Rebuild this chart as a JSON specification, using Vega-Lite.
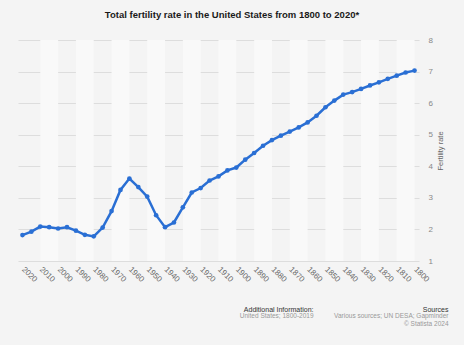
{
  "$schema": "https://vega.github.io/schema/vega-lite/v6.json",
  "width": 401,
  "height": 221,
  "autosize": {"type": "none"},
  "padding": {"left": 18, "top": 40, "right": 45, "bottom": 84},
  "background": "#f4f4f4",
  "config": {"view": {"stroke": null}, "font": "Liberation Sans"},
  "title": {
    "text": "Total fertility rate in the United States from 1800 to 2020*",
    "fontSize": 9.5,
    "fontWeight": "bold",
    "color": "#1a1a1a",
    "anchor": "middle",
    "dx": 13.5,
    "offset": 17
  },
  "datasets": {
    "bands": [
      {"start": 1800, "end": 1810}, {"start": 1820, "end": 1830}, {"start": 1840, "end": 1850},
      {"start": 1860, "end": 1870}, {"start": 1880, "end": 1890}, {"start": 1900, "end": 1910},
      {"start": 1920, "end": 1930}, {"start": 1940, "end": 1950}, {"start": 1960, "end": 1970},
      {"start": 1980, "end": 1990}, {"start": 2000, "end": 2010}
    ],
    "tfr": [
      {"year": 1800, "rate": 7.03}, {"year": 1805, "rate": 6.97}, {"year": 1810, "rate": 6.87},
      {"year": 1815, "rate": 6.77}, {"year": 1820, "rate": 6.66}, {"year": 1825, "rate": 6.56},
      {"year": 1830, "rate": 6.45}, {"year": 1835, "rate": 6.35}, {"year": 1840, "rate": 6.27},
      {"year": 1845, "rate": 6.08}, {"year": 1850, "rate": 5.87}, {"year": 1855, "rate": 5.6},
      {"year": 1860, "rate": 5.39}, {"year": 1865, "rate": 5.23}, {"year": 1870, "rate": 5.1},
      {"year": 1875, "rate": 4.97}, {"year": 1880, "rate": 4.83}, {"year": 1885, "rate": 4.65},
      {"year": 1890, "rate": 4.42}, {"year": 1895, "rate": 4.21}, {"year": 1900, "rate": 3.96},
      {"year": 1905, "rate": 3.87}, {"year": 1910, "rate": 3.68}, {"year": 1915, "rate": 3.55},
      {"year": 1920, "rate": 3.31}, {"year": 1925, "rate": 3.17}, {"year": 1930, "rate": 2.7},
      {"year": 1935, "rate": 2.22}, {"year": 1940, "rate": 2.07}, {"year": 1945, "rate": 2.45},
      {"year": 1950, "rate": 3.04}, {"year": 1955, "rate": 3.34}, {"year": 1960, "rate": 3.61},
      {"year": 1965, "rate": 3.25}, {"year": 1970, "rate": 2.58}, {"year": 1975, "rate": 2.06},
      {"year": 1980, "rate": 1.78}, {"year": 1985, "rate": 1.83}, {"year": 1990, "rate": 1.96},
      {"year": 1995, "rate": 2.07}, {"year": 2000, "rate": 2.03}, {"year": 2005, "rate": 2.07},
      {"year": 2010, "rate": 2.09}, {"year": 2015, "rate": 1.93}, {"year": 2020, "rate": 1.82}
    ]
  },
  "layer": [
    {
      "data": {"name": "bands"},
      "mark": {"type": "rect", "color": "#f9f9f9"},
      "encoding": {
        "x": {
          "field": "start",
          "type": "quantitative",
          "scale": {"domain": [1797.5, 2022.5], "reverse": true, "nice": false, "zero": false},
          "axis": {
            "title": null,
            "values": [1800, 1810, 1820, 1830, 1840, 1850, 1860, 1870, 1880, 1890, 1900, 1910, 1920, 1930, 1940, 1950, 1960, 1970, 1980, 1990, 2000, 2010, 2020],
            "format": "d",
            "labelAngle": 45,
            "labelAlign": "left",
            "labelBaseline": "middle",
            "labelPadding": 7,
            "labelFontSize": 8,
            "labelColor": "#666666",
            "labelOverlap": false,
            "ticks": false,
            "domain": false,
            "grid": false
          }
        },
        "x2": {"field": "end"}
      }
    },
    {
      "data": {"name": "tfr"},
      "mark": {"type": "line", "color": "#2a6fd4", "strokeWidth": 2.5, "point": {"filled": true, "size": 22, "color": "#2a6fd4"}},
      "encoding": {
        "x": {"field": "year", "type": "quantitative", "axis": null},
        "y": {
          "field": "rate",
          "type": "quantitative",
          "scale": {"domain": [1, 8], "nice": false, "zero": false},
          "axis": {
            "orient": "right",
            "title": "Fertility rate",
            "titleAngle": 270,
            "titleFontSize": 7.5,
            "titleFontWeight": "normal",
            "titleColor": "#666666",
            "titlePadding": 12,
            "values": [1, 2, 3, 4, 5, 6, 7, 8],
            "labelFontSize": 8,
            "labelColor": "#888888",
            "labelPadding": 9,
            "ticks": false,
            "domain": false,
            "grid": true,
            "gridColor": "#dddddd",
            "gridWidth": 1
          }
        }
      }
    },
    {
      "data": {"values": [{}]},
      "mark": {"type": "point", "opacity": 0},
      "encoding": {
        "x": {"datum": 1900, "type": "quantitative", "axis": {
          "orient": "bottom", "labels": false, "ticks": false, "domain": false, "grid": false,
          "title": "Sources", "titleX": 430, "titleY": 48.5, "titleAlign": "right", "titleAnchor": null,
          "titleBaseline": "middle", "titleFontSize": 7, "titleFontWeight": "normal", "titleColor": "#333333"
        }}
      }
    },
    {
      "data": {"values": [{}]},
      "mark": {"type": "point", "opacity": 0},
      "encoding": {
        "x": {"datum": 1900, "type": "quantitative", "axis": {
          "orient": "bottom", "labels": false, "ticks": false, "domain": false, "grid": false,
          "title": ["Various sources; UN DESA; Gapminder", "© Statista 2024"], "titleX": 430, "titleY": 51.5,
          "titleAlign": "right", "titleAnchor": null, "titleBaseline": "top", "titleLineHeight": 7.6,
          "titleFontSize": 6.5, "titleFontWeight": "normal", "titleColor": "#999999"
        }}
      }
    },
    {
      "data": {"values": [{}]},
      "mark": {"type": "point", "opacity": 0},
      "encoding": {
        "x": {"datum": 1900, "type": "quantitative", "axis": {
          "orient": "bottom", "labels": false, "ticks": false, "domain": false, "grid": false,
          "title": "Additional Information:", "titleX": 295, "titleY": 48.5, "titleAlign": "right", "titleAnchor": null,
          "titleBaseline": "middle", "titleFontSize": 7, "titleFontWeight": "normal", "titleColor": "#333333"
        }}
      }
    },
    {
      "data": {"values": [{}]},
      "mark": {"type": "point", "opacity": 0},
      "encoding": {
        "x": {"datum": 1900, "type": "quantitative", "axis": {
          "orient": "bottom", "labels": false, "ticks": false, "domain": false, "grid": false,
          "title": "United States; 1800-2019", "titleX": 295, "titleY": 54.7,
          "titleAlign": "right", "titleAnchor": null, "titleBaseline": "middle",
          "titleFontSize": 6.5, "titleFontWeight": "normal", "titleColor": "#999999"
        }}
      }
    }
  ],
  "resolve": {"axis": {"x": "independent"}}
}
